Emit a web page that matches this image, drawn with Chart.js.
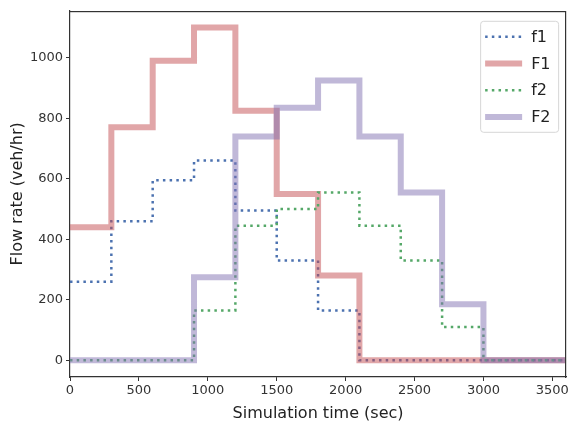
<!DOCTYPE html>
<html>
<head>
<meta charset="utf-8">
<script src="https://cdn.jsdelivr.net/npm/chart.js@4.4.1/dist/chart.umd.min.js"></script>
<style>
html,body{margin:0;padding:0;background:#fff;}
#wrap{width:571px;height:423px;}
</style>
</head>
<body>
<div id="wrap"><canvas id="c" width="571" height="423"></canvas></div>
<script>
// Time boundaries (sec)
const times = [0,300,600,900,1200,1500,1800,2100,2400,2700,3000,3300,3600];
// Values per 300-sec interval
const f1 = [260,460,595,660,495,330,165,0,0,0,0,0];
const F1 = [440,770,990,1100,825,550,280,0,0,0,0,0];
const f2 = [0,0,0,165,445,500,555,445,330,110,0,0];
const F2 = [0,0,0,275,740,835,925,740,555,185,0,0];
const xTicks = [0,500,1000,1500,2000,2500,3000,3500];
const yTicks = [0,200,400,600,800,1000];

function pts(vals){
  return times.map((t,i)=>({x:t,y:vals[Math.min(i,vals.length-1)]}));
}

const series = [
  {label:'f1', data:pts(f1), borderColor:'#4c72b0', borderWidth:2.5, borderDash:[2.5,4.2], order:4},
  {label:'F1', data:pts(F1), borderColor:'rgba(196,78,82,0.5)', borderWidth:6, borderDash:[], order:3},
  {label:'f2', data:pts(f2), borderColor:'#55a868', borderWidth:2.5, borderDash:[2.5,4.2], order:2},
  {label:'F2', data:pts(F2), borderColor:'rgba(129,114,178,0.5)', borderWidth:6, borderDash:[], order:1}
];

const frame = {
  id:'frame',
  afterDraw(chart){
    const a = chart.chartArea, ctx = chart.ctx;
    ctx.save();
    ctx.setLineDash([]);
    ctx.globalAlpha = 1;
    ctx.fillStyle = '#333';
    // top and right spines
    ctx.fillRect(Math.round(a.left), Math.round(a.top), Math.round(a.right - a.left), 1.2);
    ctx.fillRect(Math.round(a.right) - 1, Math.round(a.top), 1.2, Math.round(a.bottom - a.top) + 1);
    // legend
    const lx = a.right - 86, ly = a.top + 10, lw = 78, lh = 111;
    ctx.fillStyle = 'rgba(255,255,255,0.85)';
    ctx.strokeStyle = '#d6d6d6';
    ctx.lineWidth = 1;
    ctx.beginPath();
    if (ctx.roundRect) ctx.roundRect(lx+0.5, ly+0.5, lw, lh, 3); else ctx.rect(lx+0.5, ly+0.5, lw, lh);
    ctx.fill(); ctx.stroke();
    ctx.font = '16px "DejaVu Sans"';
    ctx.textBaseline = 'middle';
    chart.data.datasets.forEach((ds,i)=>{
      const y = ly + 16 + i*26.7;
      ctx.strokeStyle = ds.borderColor;
      ctx.lineWidth = ds.borderWidth;
      ctx.setLineDash(ds.borderDash);
      ctx.beginPath();
      ctx.moveTo(lx+5, y); ctx.lineTo(lx+42, y);
      ctx.stroke();
      ctx.setLineDash([]);
      ctx.fillStyle = '#222';
      ctx.fillText(ds.label, lx+51, y+1);
    });
    ctx.restore();
  }
};

new Chart(document.getElementById('c'), {
  type:'line',
  data:{datasets: series.map(s=>({
    label:s.label, data:s.data, borderColor:s.borderColor, borderWidth:s.borderWidth,
    borderDash:s.borderDash, order:s.order, stepped:'before', pointRadius:0,
    fill:false, tension:0, borderCapStyle:'butt', borderJoinStyle:'miter'
  }))},
  options:{
    responsive:false, animation:false,
    layout:{padding:{left:0,right:4,top:6,bottom:0}},
    plugins:{legend:{display:false}, tooltip:{enabled:false}},
    scales:{
      x:{type:'linear', min:0, max:3600,
        afterBuildTicks(s){ s.ticks = xTicks.map(v=>({value:v})); },
        afterFit(s){ s.height = 46; },
        grid:{drawOnChartArea:false, drawTicks:true, tickLength:4, color:'#333'},
        border:{display:true, color:'#333', width:1.2},
        ticks:{color:'#333', font:{family:'DejaVu Sans', size:13}, padding:2, maxRotation:0, callback:v=>String(v)},
        title:{display:true, text:'Simulation time (sec)', color:'#222', font:{family:'DejaVu Sans', size:16}, padding:{top:0,bottom:0}}
      },
      y:{type:'linear', min:-55, max:1155,
        afterBuildTicks(s){ s.ticks = yTicks.map(v=>({value:v})); },
        afterFit(s){ s.width = 70; },
        grid:{drawOnChartArea:false, drawTicks:true, tickLength:4, color:'#333'},
        border:{display:true, color:'#333', width:1.2},
        ticks:{color:'#333', font:{family:'DejaVu Sans', size:13}, padding:3, callback:v=>String(v)},
        title:{display:true, text:'Flow rate (veh/hr)', color:'#222', font:{family:'DejaVu Sans', size:16}, padding:{top:8,bottom:2}}
      }
    }
  },
  plugins:[frame]
});
</script>
</body>
</html>
